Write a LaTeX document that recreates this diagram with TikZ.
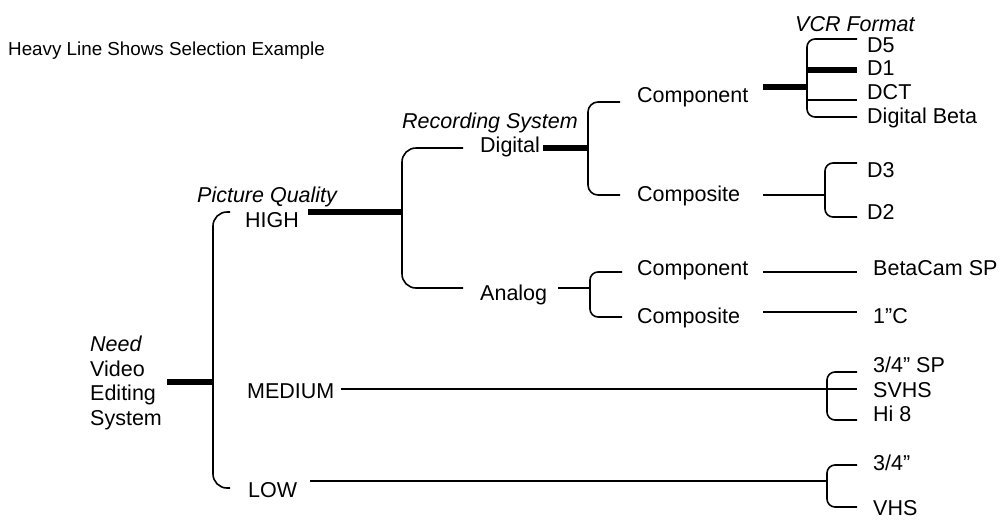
\documentclass[tikz,border=0pt]{standalone}
\usepackage{fontspec}
\setmainfont{Liberation Sans}
\usetikzlibrary{calc}
\begin{document}
\begin{tikzpicture}[x=1pt,y=-1pt,
  lbl/.style={inner sep=0pt, anchor=base west, font=\fontsize{21.5}{24.5}\selectfont},
  ilbl/.style={lbl, font=\fontsize{21.5}{24.5}\selectfont\itshape},
  link/.style={line width=1.6pt},
  heavy/.style={line width=6.5pt},
]
\useasboundingbox (0,0) rectangle (1004,520);

% heading
\node[lbl, font=\fontsize{18.8}{22}\selectfont] (title) at (8,55) {Heavy Line Shows Selection Example};

% root of the selection tree
\node[inner sep=0pt, anchor=north west, align=left,
      font=\fontsize{21.5}{24.5}\selectfont] (need) at (90,336)
      {\textit{Need}\\Video\\Editing\\System};

% level 1: picture quality
\node[ilbl] (pq) at (197,202) {Picture Quality};
\node[lbl] (high) at (245,227) {HIGH};
\node[lbl] (medium) at (247,398) {MEDIUM};
\node[lbl] (low) at (248,497) {LOW};

% level 2: recording system
\node[ilbl] (rs) at (402,128) {Recording System};
\node[lbl] (digital) at (480,152) {Digital};
\node[lbl] (analog) at (480,300) {Analog};

% level 3: signal type
\node[lbl] (dcomp) at (637,102) {Component};
\node[lbl] (dcps) at (637,201) {Composite};
\node[lbl] (acomp) at (637,275) {Component};
\node[lbl] (acps) at (637,323) {Composite};

% level 4: VCR format
\node[ilbl] (vcr) at (795,31) {VCR Format};
\node[lbl] (d5) at (867,52) {D5};
\node[lbl] (d1) at (867,75) {D1};
\node[lbl] (dct) at (867,99) {DCT};
\node[lbl] (dbeta) at (867,123) {Digital Beta};
\node[lbl] (d3) at (867,177) {D3};
\node[lbl] (d2) at (867,219) {D2};
\node[lbl] (betacam) at (873,275) {BetaCam SP};
\node[lbl] (onec) at (873,323) {1”C};
\node[lbl] (sp34) at (873,372) {3/4” SP};
\node[lbl] (svhs) at (873,397) {SVHS};
\node[lbl] (hi8) at (873,421) {Hi 8};
\node[lbl] (q34) at (873,470) {3/4”};
\node[lbl] (vhs) at (873,515) {VHS};

% branch points
\coordinate (jRoot) at (213,382);
\coordinate (jRec) at (402,212);
\coordinate (jDig) at (588,148);
\coordinate (jAna) at (590,288);
\coordinate (jDComp) at (807,87);
\coordinate (jDCps) at (825,195);
\coordinate (jMed) at (827,389);
\coordinate (jLow) at (827,481);

% root -> quality
\draw[heavy] ([xshift=5pt]need.east |- jRoot) -- (jRoot);
\draw[link, rounded corners=14pt] ($(high.base west)+(-15,-15)$) -| (jRoot) |- ($(low.base west)+(-18,-9)$);

% HIGH -> recording system
\draw[heavy] ([xshift=9pt]high.east |- jRec) -- (jRec);
\draw[link, rounded corners=14pt] ([xshift=-17pt]digital.west |- jDig) -| (jRec) |- ([xshift=-17pt]analog.west |- jAna);

% Digital -> component / composite
\draw[heavy] ([xshift=3pt]digital.east |- jDig) -- (jDig);
\draw[link, rounded corners=10pt] ($(dcomp.base west)+(-17,0)$) -| (jDig) |- ($(dcps.base west)+(-17,-6)$);

% Analog -> component / composite
\draw[link] ([xshift=11pt]analog.east |- jAna) -- (jAna);
\draw[link, rounded corners=8pt] ($(acomp.base west)+(-15,-3)$) -| (jAna) |- ($(acps.base west)+(-15,-6)$);

% digital component formats
\draw[heavy] ([xshift=14pt]dcomp.east |- jDComp) -- (jDComp);
\draw[link, rounded corners=8pt] ($(d5.base west)+(-10,-13)$) -| (jDComp) |- ($(dbeta.base west)+(-10,-6)$);
\coordinate (d1arm) at ($(d1.base west)+(-10,-5)$);
\coordinate (dctarm) at ($(dct.base west)+(-10,1)$);
\draw[heavy] (jDComp |- d1arm) -- (d1arm);
\draw[link] (jDComp |- dctarm) -- (dctarm);

% digital composite formats
\draw[link] ([xshift=23pt]dcps.east |- jDCps) -- (jDCps);
\draw[link, rounded corners=8pt] ($(d3.base west)+(-10,-14)$) -| (jDCps) |- ($(d2.base west)+(-10,-2)$);

% analog formats
\draw[link] ($(acomp.base east)+(14,-3)$) -- ($(betacam.base west)+(-16,-3)$);
\draw[link] ($(acps.base east)+(23,-11)$) -- ($(onec.base west)+(-16,-11)$);

% MEDIUM formats
\draw[link] ($(medium.base east)+(6,-9)$) -- (jMed) -- ([xshift=-16pt]svhs.west |- jMed);
\draw[link, rounded corners=8pt] ($(sp34.base west)+(-16,0)$) -| (jMed) |- ($(hi8.base west)+(-16,-1)$);

% LOW formats
\draw[link] ($(low.base east)+(13,-16)$) -- (jLow);
\draw[link, rounded corners=8pt] ($(q34.base west)+(-16,-5)$) -| (jLow) |- ($(vhs.base west)+(-16,-8)$);
\end{tikzpicture}
\end{document}
